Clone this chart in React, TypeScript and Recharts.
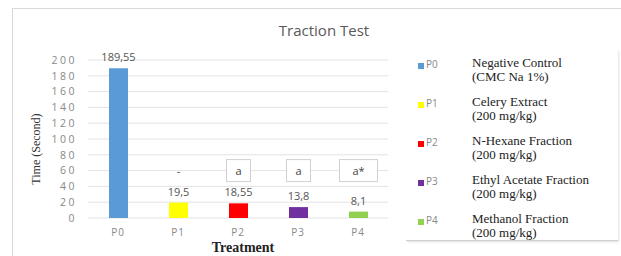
import { Bar, BarChart, CartesianGrid, Cell, LabelList, XAxis, YAxis } from "recharts";

const treatments = ["P0", "P1", "P2", "P3", "P4"];
const times = [189.55, 19.5, 18.55, 13.8, 8.1];
const notes = ["", "-", "a", "a", "a*"];
const colors = ["#5b9bd5", "#ffff00", "#ff0000", "#7030a0", "#92d050"];
const legendNames = ["Negative Control", "Celery Extract", "N-Hexane Fraction", "Ethyl Acetate Fraction", "Methanol Fraction"];
const legendDoses = ["(CMC Na 1%)", "(200 mg/kg)", "(200 mg/kg)", "(200 mg/kg)", "(200 mg/kg)"];
const yTicks = [0, 20, 40, 60, 80, 100, 120, 140, 160, 180, 200];

const rows = treatments.map((t, i) => ({ name: t, time: times[i], note: notes[i] }));

const fmt = (v: number) => String(v).replace(".", ",");

const SERIF = "'Liberation Serif', 'DejaVu Serif', serif";
const SANS = "'Open Sans', 'Liberation Sans', sans-serif";

// note boxes sit at the 60 s level above each bar
function NoteLabel(props: any) {
  const { x, y, width, height, value, index } = props;
  if (!value) return null;
  const v = times[index];
  const bottom = y + height;
  const cy = bottom - (60 * height) / v;
  const cx = x + width / 2;
  const w = value.length > 1 ? 38 : value === "-" ? 0 : 24;
  return (
    <g>
      {w > 0 && (
        <rect x={cx - w / 2} y={cy - 11} width={w} height={22} fill="#fff" stroke="#d0d0d0" />
      )}
      <text x={cx} y={cy + 4} textAnchor="middle" fontSize={11} fontFamily={SANS} fill="#444">
        {value}
      </text>
    </g>
  );
}

export default function App() {
  return (
    <div style={{ position: "relative", width: 621, height: 256, background: "#fff", fontFamily: SANS }}>
      <style>{`body{margin:0}`}</style>
      <div
        style={{
          position: "absolute",
          left: 12,
          top: 8,
          width: 609,
          height: 248,
          borderLeft: "1px solid #d9d9d9",
          borderTop: "1px solid #d9d9d9",
        }}
      />
      <BarChart
        width={621}
        height={256}
        data={rows}
        margin={{ top: 60, right: 233, bottom: 8, left: 12 }}
        style={{ position: "absolute", left: 0, top: 0 }}
      >
        <text x={324} y={36} textAnchor="middle" fontSize={15} fontFamily={SANS} fill="#595959">
          Traction Test
        </text>
        <CartesianGrid vertical={false} stroke="#e3e3e3" />
        <XAxis
          dataKey="name"
          height={30}
          axisLine={false}
          tickLine={false}
          tickMargin={5}
          tick={{ fontSize: 10, fill: "#888", fontFamily: SANS, letterSpacing: 1 }}
        />
        <YAxis
          width={76}
          domain={[0, 200]}
          ticks={yTicks}
          interval={0}
          axisLine={false}
          tickLine={false}
          tickSize={0}
          tickMargin={11}
          tick={{ fontSize: 10.5, fill: "#888", fontFamily: SANS, letterSpacing: 2.5 }}
        />
        <Bar dataKey="time" barSize={19} isAnimationActive={false}>
          {rows.map((r, i) => (
            <Cell key={r.name} fill={colors[i]} />
          ))}
          <LabelList
            dataKey="time"
            position="top"
            offset={7}
            formatter={(v: any) => fmt(v)}
            style={{ fontSize: 11, fill: "#555", fontFamily: SANS }}
          />
          <LabelList dataKey="note" content={NoteLabel} />
        </Bar>
        <text
          x={37}
          y={149}
          transform="rotate(-90 37 149)"
          textAnchor="middle"
          dominantBaseline="middle"
          fontSize={12}
          fontFamily={SERIF}
          fill="#333"
        >
          Time (Second)
        </text>
        <text x={243} y={252} textAnchor="middle" fontSize={14} fontWeight="bold" fontFamily={SERIF} fill="#222">
          Treatment
        </text>
      </BarChart>
      <div
        style={{
          position: "absolute",
          left: 406,
          top: 50,
          width: 212,
          height: 190,
          borderBottom: "1px solid #cfcfcf",
          boxShadow: "1px 1px 2px rgba(0,0,0,0.12)",
        }}
      >
        {treatments.map((t, i) => (
          <div key={t} style={{ position: "absolute", left: 0, top: 9 + i * 39, height: 32 }}>
            <span
              style={{
                position: "absolute",
                left: 12,
                top: 4,
                width: 6,
                height: 6,
                background: colors[i],
              }}
            />
            <span style={{ position: "absolute", left: 20, top: -2, fontSize: 10, color: "#888", fontFamily: SANS }}>
              {t}
            </span>
            <div
              style={{
                position: "absolute",
                left: 66,
                top: -3,
                width: 150,
                fontSize: 13,
                lineHeight: "14px",
                color: "#222",
                fontFamily: SERIF,
                whiteSpace: "nowrap",
              }}
            >
              {legendNames[i]}
              <br />
              {legendDoses[i]}
            </div>
          </div>
        ))}
      </div>
    </div>
  );
}
